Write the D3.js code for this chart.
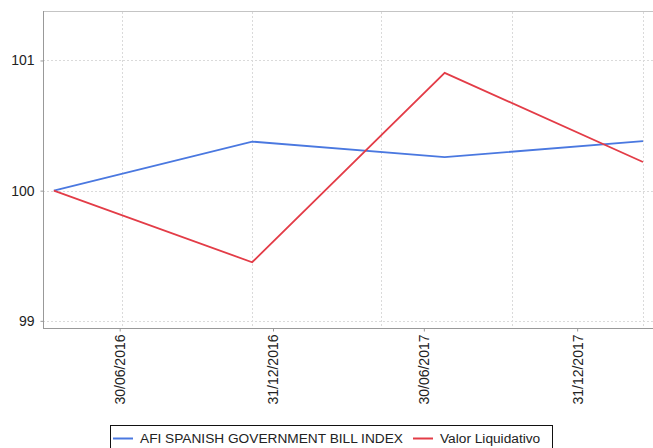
<!DOCTYPE html>
<html>
<head>
<meta charset="utf-8">
<script src="https://cdn.jsdelivr.net/npm/d3@7"></script>
<style>
html,body{margin:0;padding:0;background:#fff;}
svg{display:block;}
text{font-family:"Liberation Sans",Arial,sans-serif;fill:#222;}
</style>
</head>
<body>
<svg id="chart" width="653" height="448"></svg>
<script>
// ---- data ----
const pointDates = ["2016-04-12","2016-12-06","2017-07-25","2018-03-20"];
const seriesNames = ["AFI SPANISH GOVERNMENT BILL INDEX","Valor Liquidativo"];
const afiValues = [100, 100.377, 100.258, 100.38];
const valorValues = [100, 99.45, 100.905, 100.22];
const xTickLabels = ["30/06/2016","31/12/2016","30/06/2017","31/12/2017"];
const xTickDates = ["2016-06-30","2016-12-31","2017-06-30","2017-12-31"];
const xGridDates = ["2016-07-03","2016-12-06","2017-05-10","2017-10-14","2018-03-20"];
const yTicks = [99, 100, 101];
const xDomain = ["2016-03-30","2018-03-20"];
const yDomain = [98.945, 101.38];
const colors = ["#4a78e0","#e33c47"];

const parse = d3.utcParse("%Y-%m-%d");
const svg = d3.select("#chart");
const m = {left:43, right:10, top:11, bottom:120};
const W = 653, H = 448;
const x = d3.scaleUtc().domain(xDomain.map(parse)).range([m.left, W - m.right]);
const y = d3.scaleLinear().domain(yDomain).range([H - m.bottom, m.top]);

// top border
svg.append("line").attr("x1", m.left).attr("x2", W).attr("y1", m.top + 0.5).attr("y2", m.top + 0.5)
  .attr("stroke", "#c4c4c4").attr("stroke-width", 1);

// gridlines
svg.append("g").selectAll("line").data(xGridDates.map(parse)).join("line")
  .attr("x1", d => Math.round(x(d)) + 0.5).attr("x2", d => Math.round(x(d)) + 0.5)
  .attr("y1", m.top + 1).attr("y2", H - m.bottom)
  .attr("stroke", "#dadada").attr("stroke-dasharray", "2,2");
svg.append("g").selectAll("line").data(yTicks).join("line")
  .attr("x1", m.left).attr("x2", W)
  .attr("y1", d => Math.round(y(d)) + 0.5).attr("y2", d => Math.round(y(d)) + 0.5)
  .attr("stroke", "#dadada").attr("stroke-dasharray", "2,2");

// y axis
const yAxis = d3.axisLeft(y).tickValues(yTicks).tickFormat(d3.format("d")).tickSize(3).tickPadding(6);
const gy = svg.append("g").attr("transform", `translate(${m.left + 0.5},0)`).call(yAxis);
gy.select(".domain").attr("stroke", "#999").attr("d", `M0,${m.top}V${H - m.bottom + 0.5}`);
gy.selectAll(".tick line").attr("stroke", "#999");
gy.selectAll(".tick text").attr("font-size", 14).attr("fill", "#222")
  .style("font-family", '"Liberation Sans",Arial,sans-serif');

// x axis
const xAxis = d3.axisBottom(x).tickValues(xTickDates.map(parse))
  .tickFormat((d, i) => xTickLabels[i]).tickSize(3).tickSizeOuter(0);
const gx = svg.append("g").attr("transform", `translate(0,${H - m.bottom + 0.5})`).call(xAxis);
gx.select(".domain").attr("stroke", "#999").attr("d", `M${m.left},0H${W}`);
gx.selectAll(".tick line").attr("stroke", "#999");
gx.selectAll(".tick text")
  .attr("font-size", 14).attr("fill", "#222")
  .style("font-family", '"Liberation Sans",Arial,sans-serif')
  .attr("text-anchor", "end")
  .attr("transform", "rotate(-90)")
  .attr("x", -6).attr("y", 0).attr("dy", "0.35em");

// lines
const line = d3.line().x((d, i) => x(parse(pointDates[i]))).y(d => y(d));
[afiValues, valorValues].forEach((vals, k) => {
  svg.append("path").datum(vals).attr("d", line)
    .attr("fill", "none").attr("stroke", colors[k]).attr("stroke-width", 1.8)
    .attr("stroke-linejoin", "miter");
});

// legend
const lg = svg.append("g");
lg.append("rect").attr("x", 110.5).attr("y", 425.5).attr("width", 442).attr("height", 30)
  .attr("fill", "#fff").attr("stroke", "#111").attr("stroke-width", 1);
const legendX = [113, 413];
seriesNames.forEach((name, k) => {
  lg.append("line").attr("x1", legendX[k]).attr("x2", legendX[k] + 20)
    .attr("y1", 438.5).attr("y2", 438.5).attr("stroke", colors[k]).attr("stroke-width", 2);
  lg.append("text").attr("x", legendX[k] + 27).attr("y", 443).attr("font-size", 13.7)
    .text(name);
});
</script>
</body>
</html>
